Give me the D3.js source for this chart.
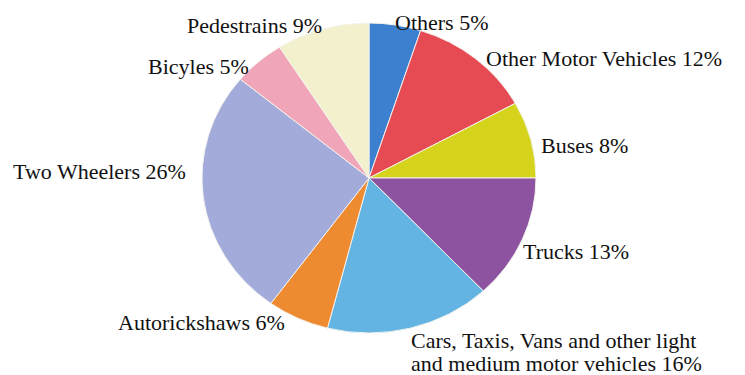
<!DOCTYPE html>
<html>
<head>
<meta charset="utf-8">
<script src="https://cdn.jsdelivr.net/npm/d3@7"></script>
<style>
  html, body { margin: 0; padding: 0; background: #ffffff; }
  svg { display: block; }
</style>
</head>
<body>
<svg id="chart" width="745" height="375"></svg>
<script>
// ---- data ----
const categories = ["Others", "Other Motor Vehicles", "Buses", "Trucks",
  "Cars, Taxis, Vans and other light and medium motor vehicles",
  "Autorickshaws", "Two Wheelers", "Bicyles", "Pedestrains"];
const values = [5, 12, 8, 13, 16, 6, 26, 5, 9];
const labelLines = [
  ["Others 5%"],
  ["Other Motor Vehicles 12%"],
  ["Buses 8%"],
  ["Trucks 13%"],
  ["Cars, Taxis, Vans and other light", "and medium motor vehicles 16%"],
  ["Autorickshaws 6%"],
  ["Two Wheelers 26%"],
  ["Bicyles 5%"],
  ["Pedestrains 9%"]
];
const colors = ["#3d80d0", "#e64a52", "#d5d31c", "#8d53a0", "#63b3e3",
  "#ee8a2f", "#a2abd9", "#f0a5b8", "#f2f0cd"];

// ---- layout (label anchor positions, px) ----
const labelPos = [
  [395, 30], [486, 66], [541, 153], [523, 259], [411, 348],
  [118, 330], [13, 179], [148, 74], [187, 33]
];

const svg = d3.select("#chart");
const cx = 369, cy = 178, rx = 167, ry = 155;

const pie = d3.pie().sort(null).value(d => d);
const arc = d3.arc().innerRadius(0).outerRadius(rx);
const color = d3.scaleOrdinal().domain(categories).range(colors);

const g = svg.append("g")
  .attr("transform", `translate(${cx},${cy}) scale(1,${ry / rx})`);

g.selectAll("path")
  .data(pie(values))
  .join("path")
  .attr("d", arc)
  .attr("fill", (d, i) => color(categories[i]))
  .attr("stroke", "#f4f4ee")
  .attr("stroke-width", 1);

const lineGap = 23;
const labels = svg.append("g");
labelLines.forEach((lines, i) => {
  const t = labels.append("text")
    .attr("x", labelPos[i][0])
    .attr("y", labelPos[i][1])
    .attr("font-family", "Liberation Serif")
    .attr("font-size", 22)
    .attr("fill", "#111");
  lines.forEach((ln, j) => {
    t.append("tspan")
      .attr("x", labelPos[i][0])
      .attr("dy", j === 0 ? 0 : lineGap)
      .text(ln);
  });
});
</script>
</body>
</html>
